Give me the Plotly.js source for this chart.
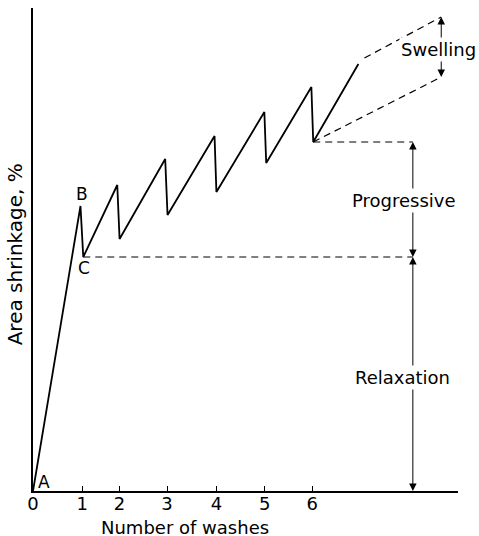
<!DOCTYPE html>
<html>
<head>
<meta charset="utf-8">
<script src="https://cdn.plot.ly/plotly-3.0.1.min.js"></script>
<style>html,body{margin:0;padding:0;background:#fff;}#chart{width:479px;height:536px;}</style>
</head>
<body>
<div id="chart"></div>
<script>
// Shrinkage curve (washes on x, relative area shrinkage on y, arbitrary units)
const washX  = [0, 1.02, 1.08, 1.81, 1.86, 2.84, 2.89, 3.90, 3.94, 4.97, 5.01, 5.98, 6.02, 6.99];
const shrink = [0, 28.5, 23.4, 30.6, 25.2, 33.2, 27.6, 35.5, 29.9, 37.9, 32.8, 40.4, 34.9, 42.7];

// Tick positions / labels for the number of washes
const tickPos  = [0, 1.06, 1.86, 2.88, 3.94, 4.98, 6.0];
const tickText = ['0', '1', '2', '3', '4', '5', '6'];

// Dashed construction lines
const relaxLevelX = [1.08, 8.16], relaxLevelY = [23.4, 23.4];
const progLevelX  = [6.02, 8.16], progLevelY  = [34.9, 34.9];
const swellLowX   = [6.02, 8.77], swellLowY   = [34.9, 41.4];
const swellHighX  = [7.12, 8.77], swellHighY  = [43.3, 47.4];

// Dimension arrows
const dimX      = [8.77, 8.16, 8.16];
const dimLow    = [41.4, 23.4, 0];
const dimHigh   = [47.4, 34.9, 23.4];
const dimLabel  = ['Swelling', 'Progressive', 'Relaxation'];
const dimLabelX = [8.71, 7.96, 7.94];
const dimLabelY = [44.2, 29.1, 11.4];

// Point labels
const ptLabel  = ['A', 'B', 'C'];
const ptLabelX = [0.24, 1.06, 1.09];
const ptLabelY = [0.95, 29.7, 22.3];

const FONT = 'DejaVu Sans, sans-serif';
const dashStyle = {color: '#000', width: 1.2, dash: '7px,5px'};

const traces = [
  {x: washX, y: shrink, mode: 'lines', line: {color: '#000', width: 1.8}, hoverinfo: 'skip'},
  {x: relaxLevelX, y: relaxLevelY, mode: 'lines', line: dashStyle, hoverinfo: 'skip'},
  {x: progLevelX, y: progLevelY, mode: 'lines', line: dashStyle, hoverinfo: 'skip'},
  {x: swellLowX, y: swellLowY, mode: 'lines', line: dashStyle, hoverinfo: 'skip'},
  {x: swellHighX, y: swellHighY, mode: 'lines', line: dashStyle, hoverinfo: 'skip'}
];

const annotations = [];
for (let i = 0; i < dimX.length; i++) {
  const mid = dimLabelY[i];
  [dimHigh[i], dimLow[i]].forEach(tip => {
    annotations.push({
      x: dimX[i], y: tip, xref: 'x', yref: 'y',
      ax: dimX[i], ay: mid, axref: 'x', ayref: 'y',
      text: '', showarrow: true, arrowhead: 2, arrowsize: 1.5, arrowwidth: 1,
      arrowcolor: '#000', standoff: 0, startstandoff: 0
    });
  });
}
for (let i = 0; i < dimLabel.length; i++) {
  annotations.push({
    x: dimLabelX[i], y: dimLabelY[i], xref: 'x', yref: 'y',
    text: dimLabel[i], showarrow: false, bgcolor: '#fff', borderpad: 1,
    font: {family: FONT, size: 18, color: '#000'}
  });
}
for (let i = 0; i < ptLabel.length; i++) {
  annotations.push({
    x: ptLabelX[i], y: ptLabelY[i], xref: 'x', yref: 'y',
    text: ptLabel[i], showarrow: false,
    font: {family: FONT, size: 17, color: '#000'}
  });
}
// Axis titles
annotations.push({
  x: 3.27, y: 0, xref: 'x', yref: 'paper', yshift: -36, yanchor: 'middle',
  height: 16, valign: 'middle',
  text: 'Number of washes', showarrow: false,
  font: {family: FONT, size: 18, color: '#000'}
});
annotations.push({
  x: 0, y: 0.49, xref: 'paper', yref: 'paper', xshift: -18, xanchor: 'center',
  text: 'Area shrinkage, %', textangle: -90, showarrow: false,
  font: {family: FONT, size: 20, color: '#000'}
});

const layout = {
  width: 479, height: 536,
  margin: {l: 32.5, r: 21, t: 8, b: 45},
  paper_bgcolor: '#fff', plot_bgcolor: '#fff',
  showlegend: false,
  font: {family: FONT, size: 18, color: '#000'},
  xaxis: {
    range: [0, 9.13], showgrid: false, zeroline: false,
    showline: true, linecolor: '#000', linewidth: 1.5,
    ticks: 'inside', ticklen: 5, tickwidth: 1, tickcolor: '#000',
    ticklabelstandoff: -4,
    tickvals: tickPos, ticktext: tickText,
    tickfont: {family: FONT, size: 18, color: '#000'}
  },
  yaxis: {
    range: [0, 48.3], showgrid: false, zeroline: false,
    showline: true, linecolor: '#000', linewidth: 2,
    ticks: '', showticklabels: false
  },
  annotations: annotations
};

Plotly.newPlot('chart', traces, layout, {staticPlot: true, displayModeBar: false});
</script>
</body>
</html>
